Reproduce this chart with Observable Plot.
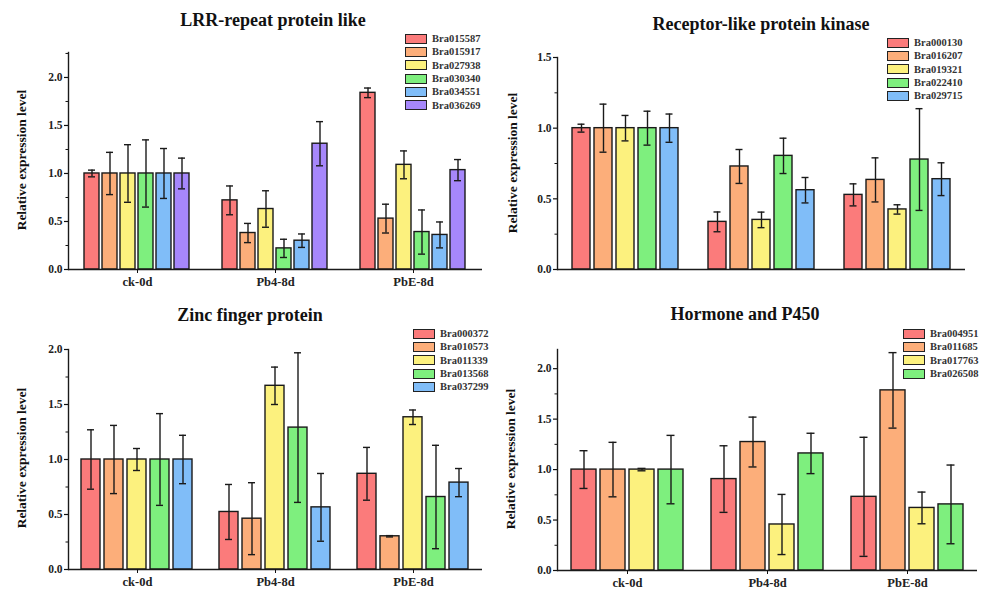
<!DOCTYPE html>
<html>
<head>
<meta charset="utf-8">
<script src="https://cdn.jsdelivr.net/npm/d3@7"></script>
<script src="https://cdn.jsdelivr.net/npm/@observablehq/plot@0.6"></script>
<style>
  body { margin: 0; background: #fff; }
  #root { position: relative; width: 981px; height: 597px; overflow: hidden; background: #fff; font-family: "Liberation Serif", "Times New Roman", serif; }
  .panel { position: absolute; }
  .title { position: absolute; font-weight: bold; font-size: 18px; color: #111; transform: translate(-50%, -50%); white-space: nowrap; }
  .ylabel { position: absolute; font-weight: bold; font-size: 13.5px; color: #111; transform: translate(-50%, -50%) rotate(-90deg); white-space: nowrap; }
  .legend { position: absolute; font-weight: bold; font-size: 10.5px; color: #333; }
  .legend .row { display: flex; align-items: center; height: 13.3px; }
  .legend .sw { width: 20px; height: 8px; border: 1.5px solid #222; margin-right: 5px; box-sizing: content-box; }
</style>
</head>
<body>
<div id="root"></div>
<script>
const groups = ["ck-0d", "Pb4-8d", "PbE-8d"];
const palette = ["#fb7b7b", "#fcae7a", "#fcf17e", "#7eef7e", "#80bdf8", "#a687fb"];
const yLabel = "Relative expression level";

// Panel 1: LRR-repeat protein like
const lrrGenes = ["Bra015587", "Bra015917", "Bra027938", "Bra030340", "Bra034551", "Bra036269"];
const lrrCk = [1, 1, 1, 1, 1, 1];
const lrrCkErr = [0.035, 0.22, 0.30, 0.35, 0.26, 0.16];
const lrrPb4 = [0.72, 0.38, 0.63, 0.22, 0.30, 1.31];
const lrrPb4Err = [0.15, 0.10, 0.19, 0.095, 0.07, 0.23];
const lrrPbE = [1.84, 0.53, 1.09, 0.39, 0.36, 1.035];
const lrrPbEErr = [0.05, 0.15, 0.145, 0.23, 0.135, 0.11];

// Panel 2: Receptor-like protein kinase
const rlkGenes = ["Bra000130", "Bra016207", "Bra019321", "Bra022410", "Bra029715"];
const rlkCk = [1, 1, 1, 1, 1];
const rlkCkErr = [0.028, 0.17, 0.09, 0.12, 0.10];
const rlkPb4 = [0.337, 0.729, 0.351, 0.804, 0.561];
const rlkPb4Err = [0.07, 0.12, 0.055, 0.125, 0.09];
const rlkPbE = [0.528, 0.634, 0.425, 0.778, 0.639];
const rlkPbEErr = [0.078, 0.156, 0.033, 0.36, 0.116];

// Panel 3: Zinc finger protein
const zincGenes = ["Bra000372", "Bra010573", "Bra011339", "Bra013568", "Bra037299"];
const zincCk = [1, 1, 1, 1, 1];
const zincCkErr = [0.27, 0.31, 0.10, 0.417, 0.22];
const zincPb4 = [0.523, 0.462, 1.67, 1.29, 0.565];
const zincPb4Err = [0.25, 0.327, 0.17, 0.68, 0.308];
const zincPbE = [0.87, 0.302, 1.384, 0.659, 0.79];
const zincPbEErr = [0.24, 0.006, 0.066, 0.47, 0.128];

// Panel 4: Hormone and P450
const hormGenes = ["Bra004951", "Bra011685", "Bra017763", "Bra026508"];
const hormCk = [1, 1, 1, 1];
const hormCkErr = [0.187, 0.27, 0.012, 0.339];
const hormPb4 = [0.906, 1.273, 0.456, 1.16];
const hormPb4Err = [0.33, 0.247, 0.298, 0.20];
const hormPbE = [0.73, 1.785, 0.62, 0.655];
const hormPbEErr = [0.59, 0.374, 0.157, 0.39];

function rowsFor(genes, means, errs) {
  const rows = [];
  groups.forEach((g, gi) => genes.forEach((gene, i) => rows.push({group: g, gene, value: means[gi][i], err: errs[gi][i]})));
  return rows;
}

const panels = [
  {title: "LRR-repeat protein like", tx: 273, ty: 20, lx: 22, ly: 160, genes: lrrGenes,
   rows: rowsFor(lrrGenes, [lrrCk, lrrPb4, lrrPbE], [lrrCkErr, lrrPb4Err, lrrPbEErr]),
   left: 0, top: 40, width: 490, height: 260, mL: 67, mR: 8, mT: 12, mB: 31, ymax: 2.26,
   pi: 0.15, po: 0.75, cap: 4, showFx: true, leg: {x: 405, y: 32}},
  {title: "Receptor-like protein kinase", tx: 761, ty: 24, lx: 513, ly: 163, genes: rlkGenes,
   rows: rowsFor(rlkGenes, [rlkCk, rlkPb4, rlkPbE], [rlkCkErr, rlkPb4Err, rlkPbEErr]),
   left: 490, top: 40, width: 491, height: 260, mL: 67, mR: 16, mT: 17, mB: 31, ymax: 1.5,
   pi: 0.19, po: 0.62, cap: 5.5, showFx: false, leg: {x: 887, y: 36}},
  {title: "Zinc finger protein", tx: 250, ty: 315, lx: 22, ly: 458, genes: zincGenes,
   rows: rowsFor(zincGenes, [zincCk, zincPb4, zincPbE], [zincCkErr, zincPb4Err, zincPbEErr]),
   left: 0, top: 330, width: 490, height: 267, mL: 67, mR: 8, mT: 19, mB: 28, ymax: 2.0,
   pi: 0.17, po: 0.55, cap: 6, showFx: true, leg: {x: 413, y: 327}},
  {title: "Hormone and P450", tx: 745, ty: 314, lx: 511, ly: 459, genes: hormGenes,
   rows: rowsFor(hormGenes, [hormCk, hormPb4, hormPbE], [hormCkErr, hormPb4Err, hormPbEErr]),
   left: 490, top: 330, width: 491, height: 267, mL: 66, mR: 4, mT: 19, mB: 27, ymax: 2.19,
   pi: 0.15, po: 0.45, cap: 8.5, showFx: true, leg: {x: 903, y: 327}}
];

const root = document.getElementById("root");

panels.forEach(p => {
  const colors = palette.slice(0, p.genes.length);
  const major = d3.range(0, p.ymax + 1e-9, 0.5);
  const minor = d3.range(0.25, p.ymax + 1e-9, 0.5);
  const chart = Plot.plot({
    width: p.width, height: p.height,
    marginLeft: p.mL, marginRight: p.mR, marginTop: p.mT, marginBottom: p.mB,
    style: {fontFamily: "Liberation Serif, Times New Roman, serif", fontWeight: "bold", fontSize: "11px", background: "transparent", color: "#111"},
    fx: {domain: groups, padding: 0, label: null},
    x: {domain: p.genes, paddingInner: p.pi, paddingOuter: p.po, axis: null},
    y: {domain: [0, p.ymax]},
    color: {domain: p.genes, range: colors},
    marks: [
      Plot.barY(p.rows, {fx: "group", x: "gene", y: "value", fill: "gene", stroke: "#1a1a1a", strokeWidth: 1.4}),
      Plot.ruleX(p.rows, {fx: "group", x: "gene", y1: d => d.value - d.err, y2: d => d.value + d.err, stroke: "#1a1a1a", strokeWidth: 1.4}),
      Plot.tickY(p.rows, {fx: "group", x: "gene", y: d => d.value + d.err, stroke: "#1a1a1a", strokeWidth: 1.4, insetLeft: p.cap, insetRight: p.cap}),
      Plot.tickY(p.rows, {fx: "group", x: "gene", y: d => d.value - d.err, stroke: "#1a1a1a", strokeWidth: 1.4, insetLeft: p.cap, insetRight: p.cap}),
      Plot.ruleY([0], {stroke: "#1a1a1a", strokeWidth: 1.6}),
      Plot.frame({anchor: "left", facetAnchor: "left", stroke: "#1a1a1a", strokeWidth: 1.4}),
      Plot.axisY({ticks: major, tickFormat: d3.format(".1f"), tickSize: 4, tickPadding: 2, label: null, strokeWidth: 1.2, fill: "#222", fontSize: 11.5}),
      Plot.axisY({ticks: minor, tickSize: 2.5, tickFormat: () => "", label: null, strokeWidth: 1}),
      p.showFx
        ? Plot.axisFx({anchor: "bottom", tickSize: 4, tickPadding: 4, label: null, fontSize: 12.5, fill: "#222"})
        : Plot.axisFx({anchor: "bottom", tickSize: 0, tickFormat: () => "", label: null})
    ]
  });
  const wrap = document.createElement("div");
  wrap.className = "panel";
  wrap.style.left = p.left + "px";
  wrap.style.top = p.top + "px";
  wrap.appendChild(chart);
  root.appendChild(wrap);

  const t = document.createElement("div");
  t.className = "title";
  t.textContent = p.title;
  t.style.left = p.tx + "px";
  t.style.top = p.ty + "px";
  root.appendChild(t);

  const yl = document.createElement("div");
  yl.className = "ylabel";
  yl.textContent = yLabel;
  yl.style.left = p.lx + "px";
  yl.style.top = p.ly + "px";
  root.appendChild(yl);

  const leg = document.createElement("div");
  leg.className = "legend";
  leg.style.left = p.leg.x + "px";
  leg.style.top = p.leg.y + "px";
  p.genes.forEach((g, i) => {
    const r = document.createElement("div");
    r.className = "row";
    const sw = document.createElement("span");
    sw.className = "sw";
    sw.style.background = colors[i];
    const tx = document.createElement("span");
    tx.textContent = g;
    r.appendChild(sw);
    r.appendChild(tx);
    leg.appendChild(r);
  });
  root.appendChild(leg);
});
</script>
</body>
</html>
